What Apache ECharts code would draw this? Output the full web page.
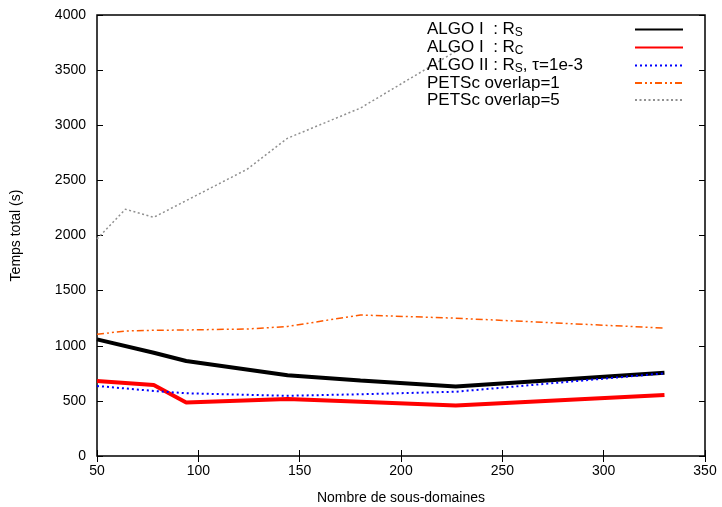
<!DOCTYPE html>
<html>
<head>
<meta charset="utf-8">
<script src="https://cdn.jsdelivr.net/npm/echarts@6/dist/echarts.min.js"></script>
<style>html,body{margin:0;padding:0;background:#fff;}#c{width:722px;height:507px;}</style>
</head>
<body>
<div id="c"></div>
<script>
// Data
const xTicks = [50, 100, 150, 200, 250, 300, 350];
const yTicks = [0, 500, 1000, 1500, 2000, 2500, 3000, 3500, 4000];

const algo1RsX = [50, 78, 94, 144, 180, 227, 330];
const algo1RsY = [1058, 937, 862, 733, 685, 630, 756];

const algo1RcX = [50, 78, 94, 144, 180, 227, 330];
const algo1RcY = [680, 644, 485, 517, 492, 458, 553];

const algo2X = [50, 78, 94, 144, 180, 227, 330];
const algo2Y = [635, 590, 569, 546, 560, 583, 750];

const petsc1X = [50, 64, 78, 94, 124, 144, 180, 227, 330];
const petsc1Y = [1104, 1134, 1140, 1143, 1152, 1175, 1279, 1250, 1160];

const petsc5X = [50, 64, 78, 124, 144, 180, 227];
const petsc5Y = [1968, 2238, 2165, 2600, 2882, 3156, 3670];

const seriesNames = ['ALGO I  : R_S', 'ALGO I  : R_C', 'ALGO II : R_S, τ=1e-3', 'PETSc overlap=1', 'PETSc overlap=5'];
// legend label parts: [main text, subscript, trailing text]
const legendParts = [
  ['ALGO I  : R', 'S', ''],
  ['ALGO I  : R', 'C', ''],
  ['ALGO II : R', 'S', ', τ=1e-3'],
  ['PETSc overlap=1', '', ''],
  ['PETSc overlap=5', '', '']
];

function pairs(xs, ys) { return xs.map((x, i) => [x, ys[i]]); }

const font = '"Liberation Sans", Arial, Helvetica, sans-serif';
const textBoxWidth = 203;
const legFont = 17, subFont = 12;

// measure text to pad every legend label to the same width (left-aligned text)
const mctx = document.createElement('canvas').getContext('2d');
function tw(s, size) { mctx.font = size + 'px ' + font; return mctx.measureText(s).width; }
const rich = {
  m: {fontFamily: font, fontSize: legFont, lineHeight: 17, color: '#000'},
  sub: {fontFamily: font, fontSize: subFont, lineHeight: 8, padding: [6, 0, 0, 0], color: '#000'}
};
const fmtMap = {};
legendParts.forEach((p, i) => {
  const w = tw(p[0], legFont) + (p[1] ? tw(p[1], subFont) : 0) + (p[2] ? tw(p[2], legFont) : 0);
  const padName = 'pad' + i;
  rich[padName] = {width: Math.max(1, textBoxWidth - w), lineHeight: 17, fontSize: legFont};
  let s = '{m|' + p[0] + '}';
  if (p[1]) s += '{sub|' + p[1] + '}';
  if (p[2]) s += '{m|' + p[2] + '}';
  s += '{' + padName + '| }';
  fmtMap[seriesNames[i]] = s;
});

const chart = echarts.init(document.getElementById('c'), null, {renderer: 'canvas'});

const axisCommon = {
  type: 'value',
  axisLine: {show: false},
  splitLine: {show: false},
  axisTick: {show: true, inside: true, length: 6, lineStyle: {color: '#000', width: 1}}
};

chart.setOption({
  animation: false,
  backgroundColor: '#fff',
  textStyle: {fontFamily: font},
  grid: {left: 97, right: 17, top: 15, bottom: 51, show: true, borderColor: '#000', borderWidth: 1.5,
         backgroundColor: 'transparent', containLabel: false, outerBoundsMode: 'none'},
  legend: {
    orient: 'vertical',
    left: 427,
    top: 20.5,
    padding: 0,
    itemWidth: 48,
    itemHeight: 17.3,
    itemGap: 0,
    align: 'right',
    itemStyle: {opacity: 0},
    formatter: name => fmtMap[name],
    textStyle: {fontFamily: font, fontSize: legFont, color: '#000', rich: rich},
    data: seriesNames
  },
  xAxis: [
    Object.assign({}, axisCommon, {
      min: 50, max: 350, interval: 50, position: 'bottom',
      name: 'Nombre de sous-domaines', nameLocation: 'middle', nameGap: 35,
      nameTextStyle: {fontFamily: font, fontSize: 14, color: '#000'},
      axisLabel: {fontFamily: font, fontSize: 14, color: '#000', margin: 8, formatter: v => String(v)}
    }),
    Object.assign({}, axisCommon, {
      min: 50, max: 350, interval: 50, position: 'top', axisLabel: {show: false}
    })
  ],
  yAxis: [
    Object.assign({}, axisCommon, {
      min: 0, max: 4000, interval: 500, position: 'left',
      name: 'Temps total (s)', nameLocation: 'middle', nameGap: 74, nameRotate: 90,
      nameTextStyle: {fontFamily: font, fontSize: 14, color: '#000'},
      axisLabel: {fontFamily: font, fontSize: 14, color: '#000', margin: 11, formatter: v => String(v)}
    }),
    Object.assign({}, axisCommon, {
      min: 0, max: 4000, interval: 500, position: 'right', axisLabel: {show: false}
    })
  ],
  series: [
    {name: seriesNames[0], type: 'line', symbol: 'none', data: pairs(algo1RsX, algo1RsY),
     lineStyle: {color: '#000', width: 4}, itemStyle: {color: '#000'}, z: 5},
    {name: seriesNames[1], type: 'line', symbol: 'none', data: pairs(algo1RcX, algo1RcY),
     lineStyle: {color: '#ff0000', width: 4}, itemStyle: {color: '#ff0000'}, z: 4},
    {name: seriesNames[2], type: 'line', symbol: 'none', data: pairs(algo2X, algo2Y),
     lineStyle: {color: '#0000ff', width: 2, type: [2, 3]}, itemStyle: {color: '#0000ff'}, z: 6},
    {name: seriesNames[3], type: 'line', symbol: 'none', data: pairs(petsc1X, petsc1Y),
     lineStyle: {color: '#ff5a00', width: 1.5, type: [7, 3, 2, 3, 2, 3]}, itemStyle: {color: '#ff5a00'}, z: 3},
    {name: seriesNames[4], type: 'line', symbol: 'none', data: pairs(petsc5X, petsc5Y),
     lineStyle: {color: '#909090', width: 1.5, type: [2, 2.5]}, itemStyle: {color: '#909090'}, z: 2}
  ]
});
</script>
</body>
</html>
